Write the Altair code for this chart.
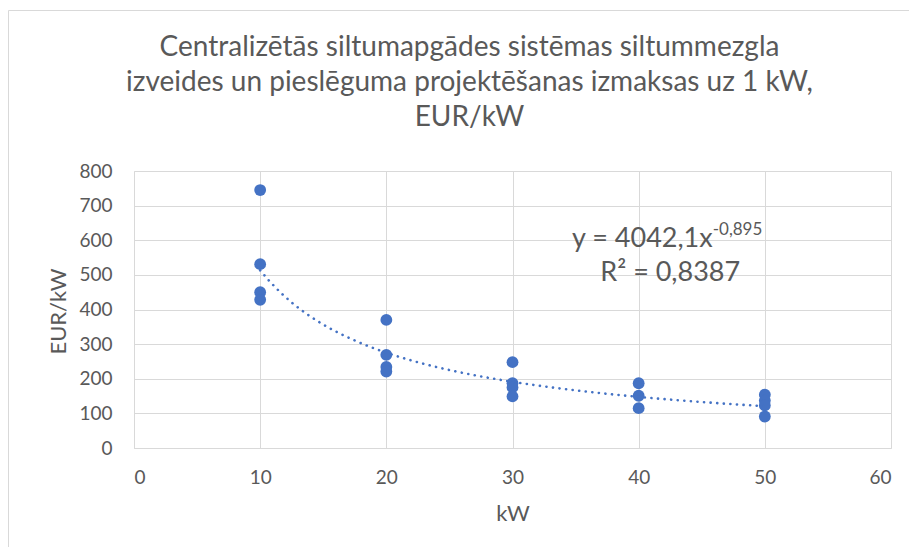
import altair as alt
import pandas as pd

kw = [10, 10, 10, 10, 20, 20, 20, 20, 30, 30, 30, 30, 40, 40, 40, 50, 50, 50, 50]
eur_per_kw = [745, 531, 450, 428, 370, 269, 234, 221, 248, 187, 175, 149, 187, 151, 115, 154, 137, 123, 91]

title_lines = [
    "Centralizētās siltumapgādes sistēmas siltummezgla",
    "izveides un pieslēguma projektēšanas izmaksas uz 1 kW,",
    "EUR/kW",
]
eq_main = "y = 4042,1x"
eq_exp = "-0,895"
eq_r2 = "R² = 0,8387"
x_ticks = [0, 10, 20, 30, 40, 50, 60]
y_ticks = [0, 100, 200, 300, 400, 500, 600, 700, 800]

df = pd.DataFrame({"kW": kw, "EUR": eur_per_kw})

FONT = "Lato"
GREY = "#595959"
BLUE = "#4472C4"

xs = alt.Scale(domain=[0, 60], nice=False)
ys = alt.Scale(domain=[0, 800], nice=False)
xaxis = alt.Axis(values=x_ticks, grid=True, labelOverlap=False, title="kW")
yaxis = alt.Axis(values=y_ticks, grid=True, labelOverlap=False, title="EUR/kW",
                 titleX=-76, titleY=140, titleBaseline="middle", titleAlign="center")


def X(field):
    return alt.X(field, type="quantitative", scale=xs, axis=xaxis)


def Y(field):
    return alt.Y(field, type="quantitative", scale=ys, axis=yaxis)


base = alt.Chart(df)

frame = base.mark_rect(filled=False, stroke="#d9d9d9", strokeWidth=1).encode(
    x=alt.value(-125.5), x2=alt.value(900), y=alt.value(-160.5), y2=alt.value(500)
).transform_filter("datum.kW == 10 && datum.EUR == 745")

points = base.mark_circle(size=140, color=BLUE, opacity=1).encode(x=X("kW"), y=Y("EUR"))

trend = base.transform_regression("kW", "EUR", method="pow", extent=[10, 50]).mark_line(
    color=BLUE, strokeWidth=2.6, strokeDash=[0.1, 6.5], strokeCap="round"
).encode(x=X("kW"), y=Y("EUR"))

ann = pd.DataFrame({"t": [eq_main], "kW": [45.87], "EUR": [580]})
t1 = alt.Chart(ann).mark_text(font=FONT, fontSize=27, color=GREY, align="right", baseline="alphabetic").encode(
    x=X("kW"), y=Y("EUR"), text="t:N")
ann2 = pd.DataFrame({"t": [eq_exp], "kW": [45.87], "EUR": [616]})
t2 = alt.Chart(ann2).mark_text(font=FONT, fontSize=17, color=GREY, align="left", baseline="alphabetic").encode(
    x=X("kW"), y=Y("EUR"), text="t:N")
ann3 = pd.DataFrame({"t": [eq_r2], "kW": [42.5], "EUR": [481]})
t3 = alt.Chart(ann3).mark_text(font=FONT, fontSize=27, color=GREY, align="center", baseline="alphabetic").encode(
    x=X("kW"), y=Y("EUR"), text="t:N")

chart = alt.layer(frame, points, trend, t1, t2, t3).properties(
    width=757, height=277,
    autosize=alt.AutoSizeParams(type="none"),
    padding={"left": 126, "top": 163, "right": 18, "bottom": 99},
    title=alt.TitleParams(title_lines, font=FONT, fontSize=28, fontWeight="normal",
                          color=GREY, anchor="middle", frame="group", dx=-43,
                          baseline="top", offset=0, dy=122, lineHeight=35),
).configure_view(stroke=None).configure_axis(
    labelFont=FONT, labelFontSize=19, labelColor=GREY,
    titleFont=FONT, titleFontSize=22, titleColor=GREY, titleFontWeight="normal",
    gridColor="#d9d9d9", domainColor="#d9d9d9", ticks=False,
).configure_axisY(labelPadding=22).configure_axisX(labelPadding=20, titlePadding=16)

chart.save("out.html", embed_options={"renderer": "svg", "actions": False})
